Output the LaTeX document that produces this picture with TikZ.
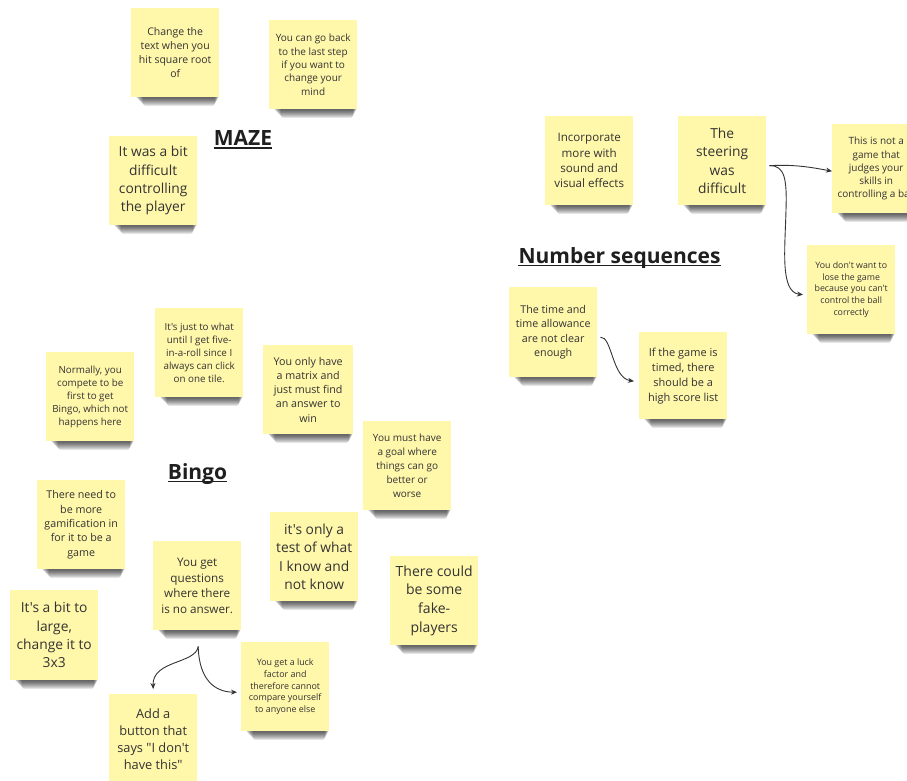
\documentclass[tikz,border=0pt]{standalone}
\usepackage{fontspec}
\setmainfont{Open Sans}[Ligatures=TeXOff]
\usetikzlibrary{arrows.meta}
\pgfdeclarelayer{background}
\pgfsetlayers{background,main}
\definecolor{sticky}{HTML}{FFF7AA}
\definecolor{ink}{HTML}{333333}
\newcommand{\nfont}[2]{\fontsize{#1}{#2}\selectfont}
\tikzset{
  note/.style={anchor=north west, fill=sticky, minimum width=88pt, minimum height=89pt,
    inner sep=0pt, align=center, text=ink},
  shadelayer/.style={fill=black, opacity=0.095},
  heading/.style={anchor=base, inner sep=0pt, font=\bfseries\nfont{21}{25}, text=black!88},
  link/.style={draw=ink, line width=0.9pt, -{Stealth[length=6pt,width=5pt]}},
}
\begin{document}
\begin{tikzpicture}[x=1pt,y=-1pt]
\useasboundingbox (0,0) rectangle (907,780);
\clip (0,0) rectangle (907,780);

% headings
\node[heading] (maze) at (243,145.5) {MAZE};
\node[heading] (numseq) at (619.5,263) {Number sequences};
\node[heading] (bingo) at (197.5,479) {Bingo};
\foreach \t in {maze,numseq,bingo}
  \draw[line width=1.5pt, black!88] ([yshift=-2.3pt]\t.base west) -- ([yshift=-2.3pt]\t.base east);

% MAZE notes
\node[note, font=\nfont{10.5}{14.1}] (chg) at (131,8) {Change the\\text when you\\hit square root\\of};
\node[note, font=\nfont{10}{13.3}] (back) at (269,20) {You can go back\\to the last step\\if you want to\\change your\\mind};
\node[note, font=\nfont{13.8}{18.3}] (ctrl) at (109,136) {It was a bit\\difficult\\controlling\\the player};

% Number sequences notes
\node[note, font=\nfont{11.6}{15.4}] (incorp) at (545,116) {Incorporate\\more with\\sound and\\visual effects};
\node[note, font=\nfont{13.8}{18.3}] (steer) at (678,116) {The\\steering\\was\\difficult};
\node[note, font=\nfont{10}{13.3}] (ball) at (832,124) {This is not a\\game that\\judges your\\skills in\\controlling a ball};
\node[note, font=\nfont{8.8}{11.7}] (lose) at (807,245) {You don't want to\\lose the game\\because you can't\\control the ball\\correctly};
\node[note, font=\nfont{10.7}{14.2}, minimum height=90pt] (timeq) at (509,287) {The time and\\time allowance\\are not clear\\enough};
\node[note, font=\nfont{11}{15}, minimum height=87pt] (score) at (639,332) {If the game is\\timed, there\\should be a\\high score list};

% Bingo notes
\node[note, font=\nfont{9.8}{13}] (five) at (155,308) {It's just to what\\until I get five-\\in-a-roll since I\\always can click\\on one tile.};
\node[note, font=\nfont{9.8}{13}] (normal) at (46,352) {Normally, you\\compete to be\\first to get\\Bingo, which not\\happens here};
\node[note, font=\nfont{10.7}{14.2}, minimum width=90pt] (matrix) at (263,345) {You only have\\a matrix and\\just must find\\an answer to\\win};
\node[note, font=\nfont{10}{14}] (goal) at (363,421) {You must have\\a goal where\\things can go\\better or\\worse};
\node[note, font=\nfont{10.7}{14.3}] (gamif) at (37,480) {There need to\\be more\\gamification in\\for it to be a\\game};
\node[note, font=\nfont{13.8}{18.3}] (test) at (270,512) {it's only a\\test of what\\I know and\\not know};
\node[note, font=\nfont{11.7}{15.5}] (quest) at (153,541) {You get\\questions\\where there\\is no answer.};
\node[note, font=\nfont{14}{18.7}] (fake) at (390,556) {There could\\be some\\fake-\\players};
\node[note, font=\nfont{13.8}{18.3}, minimum height=90pt] (large) at (10,590) {It's a bit to\\large,\\change it to\\3x3};
\node[note, font=\nfont{12.8}{17}] (button) at (109,694) {Add a\\button that\\says "I don't\\have this"};
\node[note, font=\nfont{8.9}{11.8}] (luck) at (241,642) {You get a luck\\factor and\\therefore cannot\\compare yourself\\to anyone else};

% white page, then a soft paper shadow under the bottom edge of every note
\begin{pgfonlayer}{background}
\fill[white] (0,0) rectangle (907,780);
\foreach \n in {chg,back,ctrl,incorp,steer,ball,lose,timeq,score,five,normal,matrix,
                goal,gamif,test,quest,fake,large,button,luck}
  \foreach \k in {1,...,9}
    \fill[shadelayer, rounded corners=2.5pt]
      ([xshift={(4+\k*0.9)*1pt}, yshift=4pt]\n.south west)
      rectangle ([xshift={-(\k*0.5)*1pt}, yshift={-\k*0.95pt}]\n.south east);
\end{pgfonlayer}

% connectors
\coordinate (s0) at ([xshift=3pt,yshift=-5pt]steer.east);
\coordinate (t0) at ([xshift=3pt,yshift=-5pt]timeq.east);
\coordinate (q0) at ([xshift=1pt,yshift=-16pt]quest.south);

\draw[link] (s0) .. controls (795,164) and (815,168) .. ([yshift=-2.5pt]ball.west);
\draw[link] (s0) .. controls (785,165) and (787,180) .. (786,210)
                 .. controls (785,250) and (780,292) .. ([xshift=-4pt,yshift=-5pt]lose.west);
\draw[link] (t0) .. controls (612,336) and (612,378) .. ([xshift=-5pt,yshift=-5.5pt]score.west);
\draw[link] (q0) .. controls (196,664) and (152,660) .. ([yshift=5pt]button.north);
\draw[link] (q0) .. controls (199,680) and (215,692) .. ([xshift=-4pt,yshift=-5.5pt]luck.west);
\end{tikzpicture}
\end{document}
